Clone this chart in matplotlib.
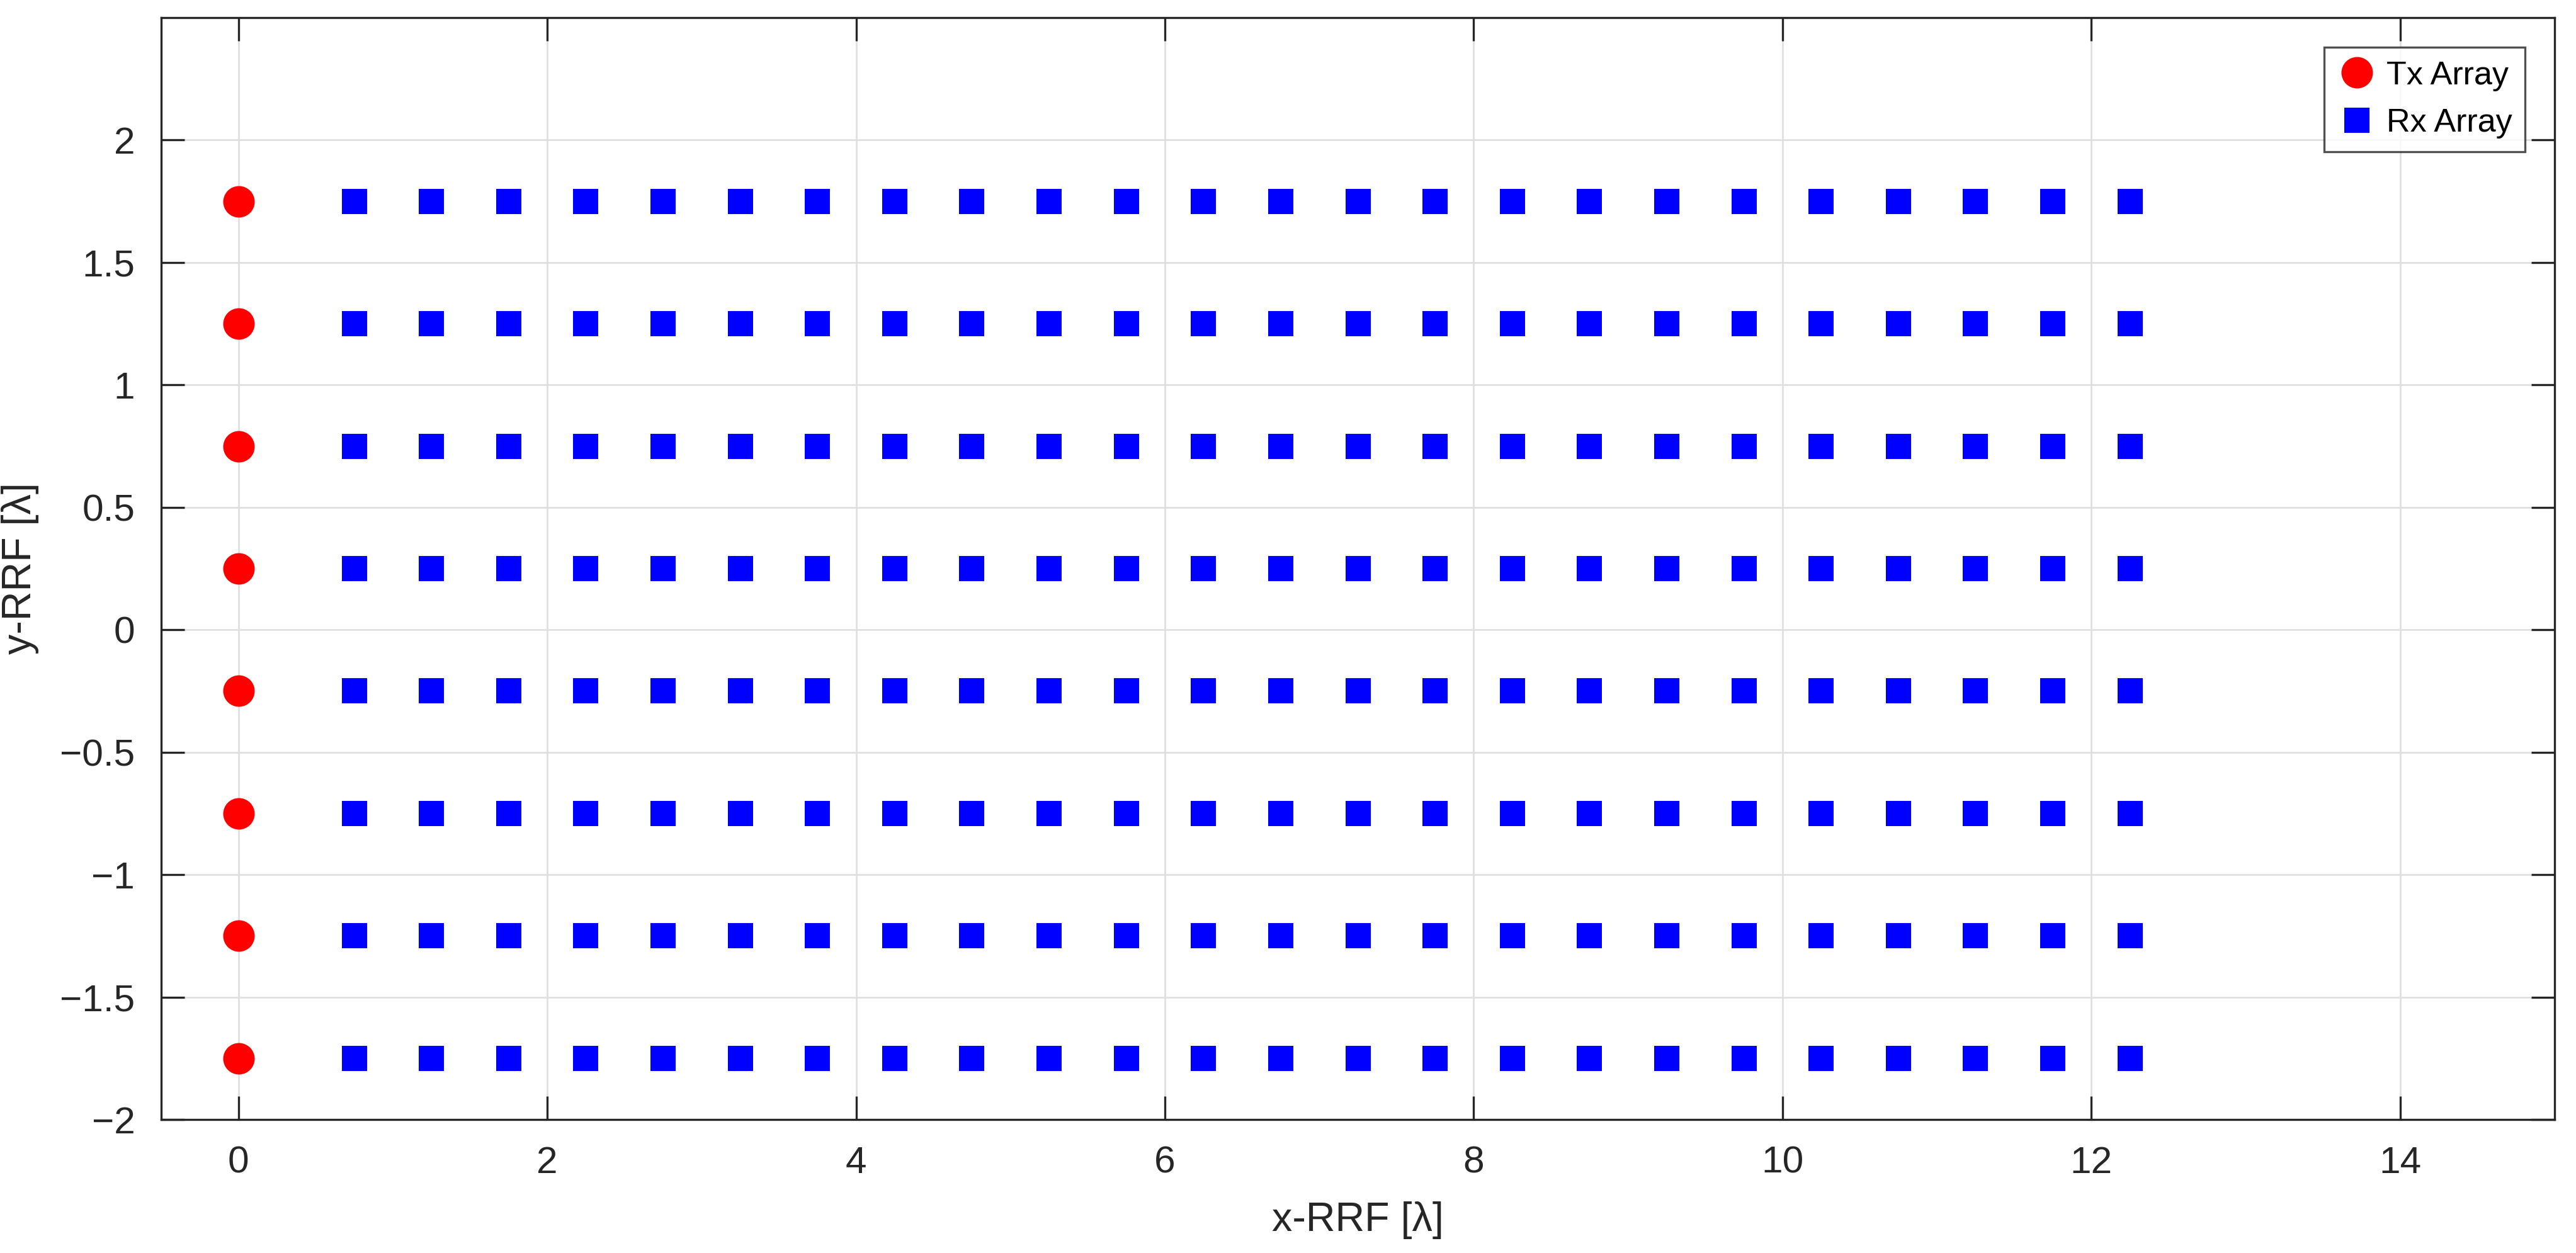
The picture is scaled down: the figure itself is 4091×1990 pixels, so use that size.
import matplotlib
matplotlib.use("Agg")
import matplotlib.pyplot as plt
import numpy as np
from matplotlib.ticker import FuncFormatter

# Array element positions (in wavelengths)
tx_x = [0.0]
rx_x = [0.75, 1.25, 1.75, 2.25, 2.75, 3.25, 3.75, 4.25, 4.75, 5.25, 5.75, 6.25,
        6.75, 7.25, 7.75, 8.25, 8.75, 9.25, 9.75, 10.25, 10.75, 11.25, 11.75, 12.25]
rows_y = [1.75, 1.25, 0.75, 0.25, -0.25, -0.75, -1.25, -1.75]

x_ticks = [0, 2, 4, 6, 8, 10, 12, 14]
y_ticks = [-2, -1.5, -1, -0.5, 0, 0.5, 1, 1.5, 2]

plt.rcParams['font.family'] = ['Liberation Sans', 'DejaVu Sans']

fig = plt.figure(figsize=(4091 / 300, 1990 / 300), dpi=300)
ax = fig.add_axes([256 / 4091, 1 - 1778 / 1990, (4057 - 256) / 4091, (1778 - 28) / 1990])

# grid of points
tx_xx, tx_yy = np.meshgrid(tx_x, rows_y)
rx_xx, rx_yy = np.meshgrid(rx_x, rows_y)

ax.plot(tx_xx.ravel(), tx_yy.ravel(), linestyle='none', marker='o', markersize=12,
        markerfacecolor='red', markeredgewidth=0, label='Tx Array', zorder=3)
ax.plot(rx_xx.ravel(), rx_yy.ravel(), linestyle='none', marker='s', markersize=9.6,
        markerfacecolor='blue', markeredgewidth=0, label='Rx Array', zorder=3)

ax.set_xlim(-0.5, 15)
ax.set_ylim(-2, 2.5)
ax.set_xticks(x_ticks)
ax.set_yticks(y_ticks)

fmt = FuncFormatter(lambda v, p: ('%g' % v).replace('-', '\u2212'))
ax.xaxis.set_major_formatter(fmt)
ax.yaxis.set_major_formatter(fmt)

ax.grid(True, color='#dfdfdf', linewidth=0.65)
ax.set_axisbelow(True)
ax.tick_params(direction='in', length=8.8, width=0.8, colors='#262626',
               top=True, right=True, labelsize=14.5, pad=10)
for s in ax.spines.values():
    s.set_linewidth(0.8)
    s.set_color('#262626')

ax.set_xlabel('x-RRF [\u03bb]', fontsize=15.5, color='#262626', labelpad=8)
ax.set_ylabel('y-RRF [\u03bb]', fontsize=15.5, color='#262626', labelpad=8)

leg = ax.legend(loc='upper right', fontsize=12.5, frameon=True, fancybox=False,
                edgecolor='#262626', borderaxespad=0.9, handletextpad=0.3,
                handlelength=1.2, borderpad=0.4, labelspacing=0.5)
leg.get_frame().set_linewidth(0.8)

fig.savefig('out.png', dpi=300)
